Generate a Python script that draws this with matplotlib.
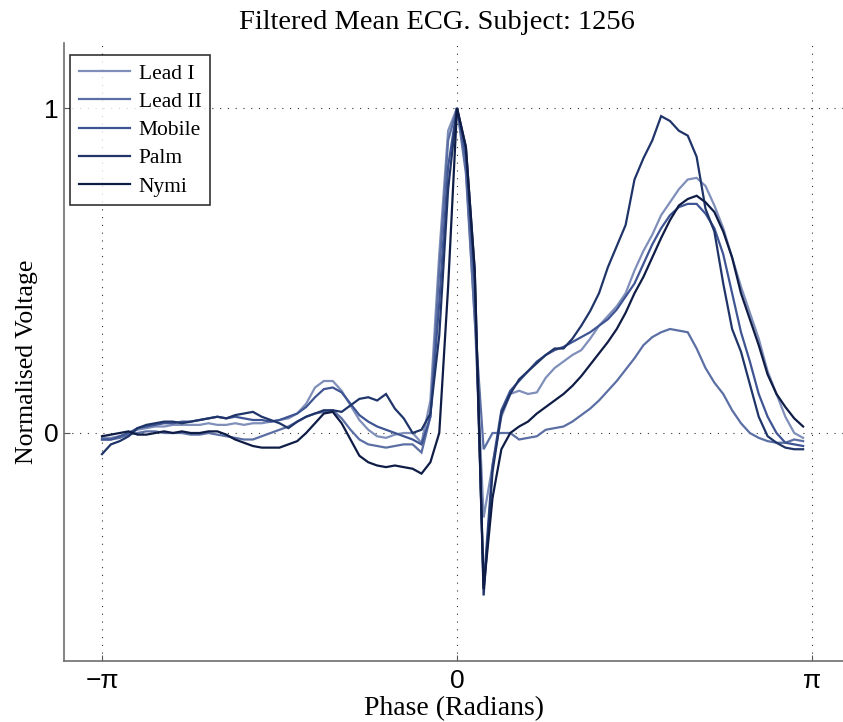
import numpy as np
import matplotlib
matplotlib.use("Agg")
import matplotlib.pyplot as plt

# Mean ECG beat for one subject, normalised so the R peak sits at 1
n_samples = 80
phase = -np.pi + np.arange(n_samples) * 2 * np.pi / n_samples

lead_i = [
    -0.015, -0.015, -0.01, 0.0, 0.01, 0.015, 0.02, 0.02, 0.025, 0.025,
    0.025, 0.025, 0.03, 0.025, 0.025, 0.03, 0.025, 0.03, 0.03, 0.035,
    0.04, 0.045, 0.06, 0.09, 0.14, 0.16, 0.16, 0.13, 0.085, 0.04,
    0.01, -0.01, -0.015, -0.005, 0.0, 0.0, -0.03, 0.1, 0.55, 0.93,
    1.0, 0.82, 0.35, -0.26, -0.1, 0.05, 0.12, 0.13, 0.12, 0.125,
    0.17, 0.2, 0.22, 0.24, 0.255, 0.29, 0.33, 0.36, 0.39, 0.43,
    0.5, 0.56, 0.61, 0.67, 0.71, 0.75, 0.78, 0.785, 0.76, 0.70,
    0.63, 0.54, 0.45, 0.37, 0.29, 0.19, 0.12, 0.05, 0.0, -0.015,
]

lead_ii = [
    -0.02, -0.02, -0.015, -0.005, 0.0, 0.005, 0.005, 0.0, 0.0, 0.0,
    -0.005, -0.005, 0.0, -0.005, -0.01, -0.015, -0.02, -0.02, -0.01, 0.0,
    0.01, 0.02, 0.035, 0.05, 0.06, 0.065, 0.07, 0.045, 0.01, -0.02,
    -0.035, -0.04, -0.045, -0.04, -0.035, -0.035, -0.06, 0.05, 0.5, 0.9,
    1.0, 0.8, 0.35, -0.05, 0.0, 0.0, 0.0, -0.02, -0.015, -0.01,
    0.01, 0.015, 0.02, 0.035, 0.055, 0.075, 0.1, 0.13, 0.16, 0.195,
    0.23, 0.27, 0.295, 0.31, 0.32, 0.315, 0.31, 0.26, 0.2, 0.155,
    0.12, 0.07, 0.03, 0.0, -0.015, -0.025, -0.03, -0.03, -0.02, -0.025,
]

mobile = [
    -0.02, -0.02, -0.01, 0.0, 0.015, 0.02, 0.025, 0.03, 0.03, 0.035,
    0.035, 0.04, 0.045, 0.05, 0.045, 0.05, 0.045, 0.04, 0.04, 0.035,
    0.04, 0.05, 0.06, 0.08, 0.11, 0.135, 0.14, 0.125, 0.09, 0.055,
    0.035, 0.02, 0.01, 0.0, -0.01, -0.02, -0.035, 0.05, 0.4, 0.82,
    1.0, 0.85, 0.45, -0.47, -0.1, 0.07, 0.13, 0.16, 0.19, 0.22,
    0.24, 0.255, 0.265, 0.28, 0.295, 0.31, 0.33, 0.35, 0.38, 0.42,
    0.46, 0.52, 0.58, 0.63, 0.67, 0.695, 0.705, 0.705, 0.675, 0.63,
    0.55, 0.43, 0.31, 0.22, 0.12, 0.05, 0.0, -0.03, -0.035, -0.04,
]

palm = [
    -0.065, -0.035, -0.025, -0.01, 0.015, 0.025, 0.03, 0.035, 0.035, 0.03,
    0.035, 0.04, 0.045, 0.05, 0.045, 0.055, 0.06, 0.065, 0.05, 0.04,
    0.03, 0.015, 0.035, 0.05, 0.06, 0.07, 0.07, 0.065, 0.085, 0.105,
    0.11, 0.1, 0.12, 0.075, 0.045, 0.0, 0.01, 0.06, 0.3, 0.75,
    1.0, 0.88, 0.5, -0.5, -0.12, 0.06, 0.12, 0.165, 0.19, 0.215,
    0.24, 0.26, 0.26, 0.29, 0.33, 0.375, 0.43, 0.51, 0.575, 0.64,
    0.78, 0.845, 0.9, 0.975, 0.96, 0.93, 0.915, 0.85, 0.69, 0.62,
    0.46, 0.32, 0.25, 0.15, 0.05, -0.01, -0.03, -0.045, -0.05, -0.05,
]

nymi = [
    -0.01, -0.005, 0.0, 0.005, -0.005, -0.005, 0.0, 0.005, 0.0, 0.005,
    0.0, 0.0, 0.005, 0.005, -0.005, -0.02, -0.03, -0.04, -0.045, -0.045,
    -0.045, -0.035, -0.025, 0.0, 0.03, 0.06, 0.065, 0.03, -0.02, -0.07,
    -0.09, -0.1, -0.105, -0.1, -0.105, -0.11, -0.125, -0.09, 0.0, 0.45,
    1.0, 0.88, 0.5, -0.48, -0.2, -0.05, 0.0, 0.02, 0.035, 0.06,
    0.08, 0.1, 0.12, 0.145, 0.175, 0.21, 0.245, 0.28, 0.32, 0.37,
    0.43, 0.48, 0.54, 0.6, 0.655, 0.7, 0.72, 0.73, 0.71, 0.68,
    0.62, 0.54, 0.43, 0.35, 0.27, 0.18, 0.12, 0.08, 0.045, 0.02,
]

series_names = ["Lead I", "Lead II", "Mobile", "Palm", "Nymi"]
series_values = [lead_i, lead_ii, mobile, palm, nymi]
series_colors = ["#7f8fba", "#5b6fa4", "#3f5593", "#1f3468", "#0e1c46"]

x_tick_values = [-np.pi, 0, np.pi]
x_tick_labels = ["\u2212\u03c0", "0", "\u03c0"]
y_tick_values = [0, 1]
y_tick_labels = ["0", "1"]

serif = ["Liberation Serif", "DejaVu Serif"]
sans = ["Liberation Sans", "DejaVu Sans"]

W, H = 843, 722
fig = plt.figure(figsize=(W / 100, H / 100), dpi=100)
ax = fig.add_axes([64 / W, (H - 660.5) / H, (W - 64) / W, (660.5 - 43) / H])

for name, vals, col in zip(series_names, series_values, series_colors):
    ax.plot(phase, vals, color=col, lw=1.6, label=name, solid_joinstyle="miter")

ax.set_xlim(-3.478, 3.416)
ax.set_ylim(-0.7, 1.2)

ax.set_xticks(x_tick_values)
ax.set_xticklabels(x_tick_labels, fontfamily=sans, fontsize=19)
ax.set_yticks(y_tick_values)
ax.set_yticklabels(y_tick_labels, fontfamily=sans, fontsize=19)
ax.tick_params(direction="in", length=4, width=0.8, color="#555555", pad=6)
ax.tick_params(axis="y", pad=4)

ax.grid(True, linestyle=(0, (1, 6)), color="#333333", lw=0.8)
ax.set_axisbelow(True)

for side in ("top", "right"):
    ax.spines[side].set_visible(False)
for side in ("left", "bottom"):
    ax.spines[side].set_color("#6e6e6e")
    ax.spines[side].set_linewidth(1.2)

title = ax.set_title("Filtered Mean ECG. Subject: 1256", fontfamily=serif,
                     fontsize=20.5, pad=10)
title.set_x((437 - 64) / (W - 64))
ax.set_xlabel("Phase (Radians)", fontfamily=serif, fontsize=20, labelpad=2)
ax.set_ylabel("Normalised Voltage", fontfamily=serif, fontsize=18.5)
ax.yaxis.set_label_coords(-0.033, 0.483)

leg = ax.legend(loc="upper left", bbox_to_anchor=(6 / (W - 64), 1 - 12 / 617.5),
                prop={"family": serif, "size": 15.5}, frameon=True, fancybox=False,
                handlelength=2.4, handletextpad=0.4, labelspacing=0.38,
                borderpad=0.4, borderaxespad=0.0)
leg.get_frame().set_edgecolor("black")
leg.get_frame().set_linewidth(1.2)

fig.savefig("out.png", dpi=100)
